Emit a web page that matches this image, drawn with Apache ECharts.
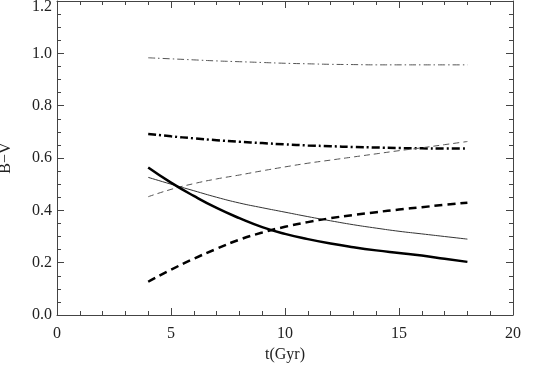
<!DOCTYPE html>
<html>
<head>
<meta charset="utf-8">
<script src="https://cdn.jsdelivr.net/npm/echarts@6/dist/echarts.min.js"></script>
<style>
  html, body { margin: 0; padding: 0; background: #fff; }
  #chart { width: 533px; height: 365px; }
</style>
</head>
<body>
<div id="chart"></div>
<script>
// t (Gyr)
const ages = [4, 5, 6, 7, 8, 9, 10, 11, 12, 13, 14, 15, 16, 17, 18];

// B-V curves
const thickSolid = [0.564, 0.506, 0.455, 0.409, 0.370, 0.336, 0.310, 0.290, 0.273, 0.259, 0.247, 0.237, 0.227, 0.215, 0.203];
const thinSolid = [0.526, 0.500, 0.475, 0.450, 0.428, 0.410, 0.393, 0.376, 0.360, 0.345, 0.332, 0.320, 0.310, 0.300, 0.290];
const thickDash = [0.127, 0.173, 0.215, 0.253, 0.288, 0.315, 0.337, 0.355, 0.370, 0.382, 0.393, 0.403, 0.412, 0.421, 0.429];
const thinDash = [0.452, 0.480, 0.502, 0.520, 0.535, 0.551, 0.566, 0.580, 0.592, 0.604, 0.616, 0.628, 0.639, 0.651, 0.663];
const thickDashDot = [0.692, 0.683, 0.675, 0.668, 0.662, 0.657, 0.652, 0.648, 0.645, 0.642, 0.640, 0.638, 0.637, 0.636, 0.636];
const thinDashDot = [0.983, 0.979, 0.975, 0.971, 0.968, 0.965, 0.962, 0.960, 0.958, 0.957, 0.956, 0.956, 0.956, 0.956, 0.956];

const font = 'Liberation Serif';
const axisColor = '#444';

function pairs(vals) {
  return ages.map((t, i) => [t, vals[i]]);
}

function mkSeries(vals, width, color, type) {
  return {
    type: 'line',
    data: pairs(vals),
    showSymbol: false,
    smooth: true,
    lineStyle: { width: width, color: color, type: type },
    xAxisIndex: 0,
    yAxisIndex: 0,
    silent: true
  };
}

function ticks(split) {
  return {
    axisLine: { show: true, onZero: false, lineStyle: { color: axisColor, width: 1 } },
    axisTick: { show: true, inside: true, length: 7, lineStyle: { color: axisColor } },
    minorTick: { show: true, splitNumber: split, length: 4, lineStyle: { color: axisColor } },
    splitLine: { show: false }
  };
}

let myChart = echarts.init(document.getElementById('chart'), null, { renderer: 'canvas' });

let option = {
  animation: false,
  backgroundColor: '#fff',
  grid: { left: 57, right: 20, top: 1, bottom: 50, outerBoundsMode: 'none', containLabel: false },
  xAxis: [
    Object.assign({
      type: 'value', min: 0, max: 20, interval: 5, position: 'bottom',
      name: 't(Gyr)', nameLocation: 'middle', nameGap: 31,
      nameTextStyle: { fontFamily: font, fontSize: 16, color: '#222' },
      axisLabel: { fontFamily: font, fontSize: 16, color: '#222', margin: 11 }
    }, ticks(5)),
    Object.assign({
      type: 'value', min: 0, max: 20, interval: 5, position: 'top',
      axisLabel: { show: false }
    }, ticks(5))
  ],
  yAxis: [
    Object.assign({
      type: 'value', min: 0, max: 1.2, interval: 0.2, position: 'left',
      name: 'B\u2212V', nameLocation: 'middle', nameGap: 43, nameRotate: 90,
      nameTextStyle: { fontFamily: font, fontSize: 16, color: '#222' },
      axisLabel: {
        fontFamily: font, fontSize: 16, color: '#222', margin: 5,
        // the top label sits a little lower so it is not cut off
        formatter: v => v >= 1.19 ? '{top|' + v.toFixed(1) + '}' : v.toFixed(1),
        rich: { top: { fontFamily: font, fontSize: 16, color: '#222', padding: [11, 0, 0, 0] } }
      }
    }, ticks(4)),
    Object.assign({
      type: 'value', min: 0, max: 1.2, interval: 0.2, position: 'right',
      axisLabel: { show: false }
    }, ticks(4))
  ],
  series: [
    mkSeries(thinDashDot, 1, '#555', [7, 3, 1.5, 3]),
    mkSeries(thickDashDot, 2.5, '#000', [8, 3, 2, 3]),
    mkSeries(thinDash, 1, '#555', [6, 4]),
    mkSeries(thinSolid, 1, '#333', 'solid'),
    mkSeries(thickSolid, 2.5, '#000', 'solid'),
    mkSeries(thickDash, 2.5, '#000', [8, 5])
  ]
};
myChart.setOption(option);
</script>
</body>
</html>
